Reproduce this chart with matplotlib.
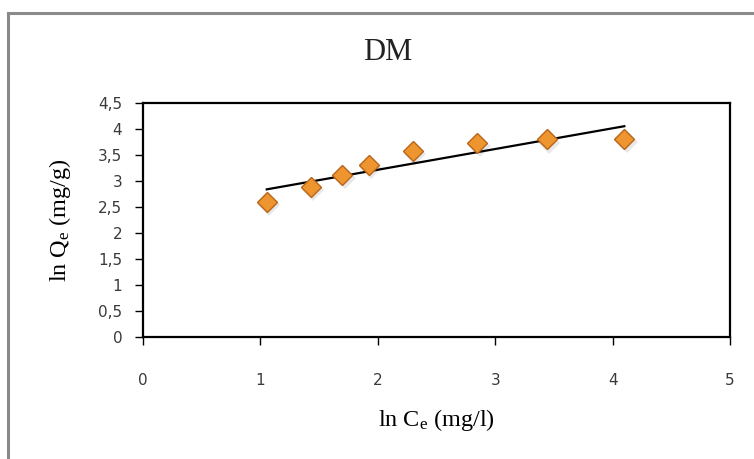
import numpy as np
import matplotlib
matplotlib.use("Agg")
import matplotlib.pyplot as plt
from matplotlib.lines import Line2D

plt.rcParams["mathtext.fontset"] = "custom"
plt.rcParams["mathtext.rm"] = "Liberation Serif"
plt.rcParams["mathtext.it"] = "Liberation Serif:italic"

# Freundlich isotherm data (linearised)
ln_ce = [1.054, 1.428, 1.698, 1.925, 2.30, 2.848, 3.44, 4.10]
ln_qe = [2.60, 2.89, 3.115, 3.31, 3.58, 3.74, 3.80, 3.81]

x_ticks = [0, 1, 2, 3, 4, 5]
y_ticks = [0, 0.5, 1, 1.5, 2, 2.5, 3, 3.5, 4, 4.5]
y_tick_labels = ["0", "0,5", "1", "1,5", "2", "2,5", "3", "3,5", "4", "4,5"]

fig = plt.figure(figsize=(7.54, 4.59), dpi=100)
fig.patch.set_facecolor("white")

# chart-area frame
fig.add_artist(Line2D([8 / 754, 8 / 754], [0, 1 - 13 / 459], transform=fig.transFigure,
                      color="#8a8a8a", lw=2.2))
fig.add_artist(Line2D([8 / 754, 1], [1 - 13 / 459, 1 - 13 / 459], transform=fig.transFigure,
                      color="#8a8a8a", lw=2.2))

ax = fig.add_axes([143 / 754, 1 - 337 / 459, 587 / 754, 234 / 459])

# linear trendline
slope, intercept = np.polyfit(ln_ce, ln_qe, 1)
xs = np.array([min(ln_ce), max(ln_ce)])
ax.plot(xs, slope * xs + intercept, color="black", lw=1.6, zorder=2)

# soft shadow under markers
ax.plot(np.array(ln_ce) + 0.02, np.array(ln_qe) - 0.06, linestyle="none", marker="D",
        markersize=11, color="#d9d9d9", alpha=0.6, markeredgewidth=0, zorder=1)
ax.plot(ln_ce, ln_qe, linestyle="none", marker="D", markersize=10,
        markerfacecolor="#EE9530", markeredgecolor="#B8651A", markeredgewidth=1.0, zorder=3)

ax.set_xlim(0, 5)
ax.set_ylim(0, 4.5)
ax.set_xticks(x_ticks)
ax.set_xticklabels([str(t) for t in x_ticks])
ax.set_yticks(y_ticks)
ax.set_yticklabels(y_tick_labels)

for s in ax.spines.values():
    s.set_linewidth(1.6)
    s.set_color("black")

ax.tick_params(axis="both", direction="out", length=6, width=1, color="black",
               labelsize=11, labelcolor="#3a3a3a")
ax.tick_params(axis="x", pad=20)
ax.tick_params(axis="y", pad=9)
for lbl in ax.get_xticklabels() + ax.get_yticklabels():
    lbl.set_family("DejaVu Sans")

ax.set_xlabel(r"ln C$_{\mathrm{e}}$ (mg/l)", family="Liberation Serif", fontsize=17.5)
ax.set_ylabel(r"ln Q$_{\mathrm{e}}$ (mg/g)", family="Liberation Serif", fontsize=17.5)
ax.xaxis.set_label_coords(0.5, -(420 - 337) / 234)
ax.yaxis.set_label_coords(-(143 - 60) / 587, 0.5)
ax.xaxis.label.set_va("center")
ax.yaxis.label.set_va("center")

fig.text(388 / 754, 1 - 52 / 459, "DM", family="Liberation Serif", fontsize=22,
         ha="center", va="center", color="#222222")

fig.savefig("out.png", dpi=100, facecolor="white")
